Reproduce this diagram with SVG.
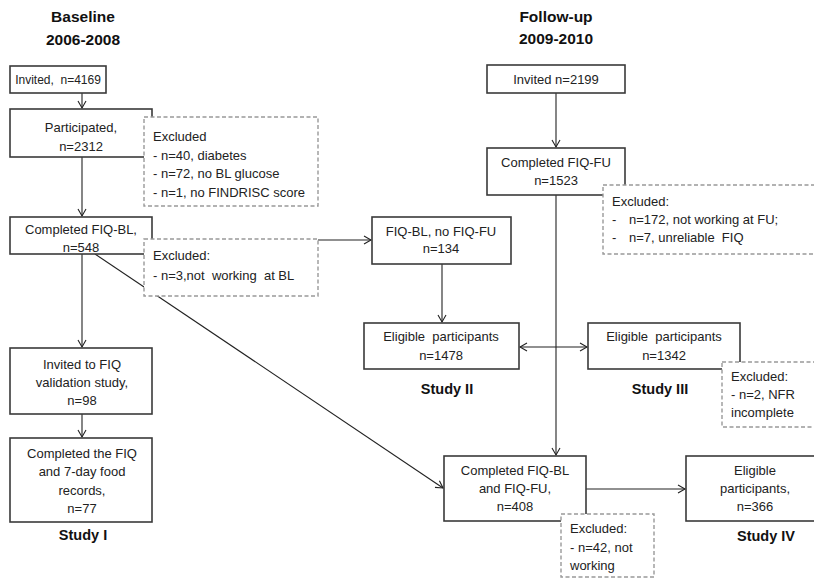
<svg xmlns="http://www.w3.org/2000/svg" width="814" height="579" viewBox="0 0 814 579" xml:space="preserve">
<style>
text{font-family:"Liberation Sans",Arial,sans-serif;font-size:13px;fill:#222;white-space:pre;}
.c{text-anchor:middle;}
.t{font-weight:bold;font-size:15.5px;fill:#111;text-anchor:middle;}
.s{font-weight:bold;font-size:14.5px;fill:#111;text-anchor:middle;}
.box{fill:#fff;stroke:#3a3a3a;stroke-width:1.6;}
.ex{fill:#fff;stroke:#999;stroke-width:1.4;stroke-dasharray:4 2.5;}
.ln{fill:none;stroke:#222;stroke-width:1.1;}
</style>
<defs>
<marker id="ah" markerWidth="10" markerHeight="10" refX="8" refY="5" orient="auto" markerUnits="userSpaceOnUse">
<path d="M1,1 L8,5 L1,9" fill="none" stroke="#222" stroke-width="1.1"/>
</marker>
<marker id="ahs" markerWidth="10" markerHeight="10" refX="8" refY="5" orient="auto-start-reverse" markerUnits="userSpaceOnUse">
<path d="M1,1 L8,5 L1,9" fill="none" stroke="#222" stroke-width="1.1"/>
</marker>
</defs>
<rect width="814" height="579" fill="#fff"/>
<text class="t" x="83" y="22">Baseline</text>
<text class="t" x="83" y="45">2006-2008</text>
<text class="t" x="556" y="22">Follow-up</text>
<text class="t" x="556" y="44">2009-2010</text>
<g id="connectors">
<line class="ln" x1="82" y1="93" x2="82" y2="108" marker-end="url(#ah)"/>
<line class="ln" x1="82" y1="157" x2="82" y2="216" marker-end="url(#ah)"/>
<line class="ln" x1="82" y1="254" x2="82" y2="347" marker-end="url(#ah)"/>
<line class="ln" x1="82" y1="414" x2="82" y2="437" marker-end="url(#ah)"/>
<line class="ln" x1="152" y1="240" x2="371" y2="240" marker-end="url(#ah)"/>
<line class="ln" x1="95" y1="254" x2="443" y2="488" marker-end="url(#ah)"/>
<line class="ln" x1="556" y1="93" x2="556" y2="147" marker-end="url(#ah)"/>
<line class="ln" x1="442" y1="264" x2="442" y2="322" marker-end="url(#ah)"/>
<line class="ln" x1="556" y1="195" x2="556" y2="455" marker-end="url(#ah)"/>
<line class="ln" x1="520" y1="347" x2="587" y2="347" marker-start="url(#ahs)" marker-end="url(#ah)"/>
<line class="ln" x1="586" y1="489" x2="685" y2="489" marker-end="url(#ah)"/>
</g>
<g id="n-invited-bl"><rect class="box" x="10" y="66" width="96" height="27"/><text class="c" x="58" y="84" style="font-size:12px">Invited,  n=4169</text></g>
<g id="n-participated"><rect class="box" x="10" y="109" width="142" height="48"/><text class="c" x="81" y="132">Participated,</text><text class="c" x="81" y="151">n=2312</text></g>
<g id="x-participated"><rect class="ex" x="144" y="117" width="174" height="89"/><text x="153" y="141">Excluded</text><text x="153" y="160">- n=40, diabetes</text><text x="153" y="178">- n=72, no BL glucose</text><text x="153" y="197">- n=1, no FINDRISC score</text></g>
<g id="n-completed-bl"><rect class="box" x="10" y="217" width="142" height="37"/><text class="c" x="81" y="234">Completed FIQ-BL,</text><text class="c" x="81" y="252">n=548</text></g>
<g id="x-completed-bl"><rect class="ex" x="144" y="239" width="174" height="57"/><text x="153" y="260">Excluded:</text><text x="153" y="280">- n=3,not  working  at BL</text></g>
<g id="n-invited-val"><rect class="box" x="10" y="348" width="142" height="66"/><text class="c" x="82" y="369">Invited to FIQ</text><text class="c" x="82" y="387">validation study,</text><text class="c" x="82" y="405">n=98</text></g>
<g id="n-completed-val"><rect class="box" x="10" y="438" width="142" height="84"/><text class="c" x="82" y="458">Completed the FIQ</text><text class="c" x="82" y="476">and 7-day food</text><text class="c" x="82" y="495">records,</text><text class="c" x="82" y="513">n=77</text></g>
<text class="s" x="83" y="540">Study I</text>
<g id="n-invited-fu"><rect class="box" x="487" y="65" width="138" height="28"/><text class="c" x="556" y="84">Invited n=2199</text></g>
<g id="n-completed-fu"><rect class="box" x="487" y="148" width="138" height="47"/><text class="c" x="556" y="167">Completed FIQ-FU</text><text class="c" x="556" y="185">n=1523</text></g>
<g id="x-completed-fu"><rect class="ex" x="603" y="185" width="220" height="69"/><text x="612" y="206">Excluded:</text><text x="612" y="224">-</text><text x="629" y="224">n=172, not working at FU;</text><text x="612" y="242">-</text><text x="629" y="242">n=7, unreliable  FIQ</text></g>
<g id="n-bl-no-fu"><rect class="box" x="372" y="217" width="139" height="47"/><text class="c" x="441" y="236">FIQ-BL, no FIQ-FU</text><text class="c" x="441" y="253">n=134</text></g>
<g id="n-eligible-2"><rect class="box" x="364" y="323" width="155" height="46"/><text class="c" x="441" y="341">Eligible  participants</text><text class="c" x="441" y="360">n=1478</text></g>
<text class="s" x="447" y="394">Study II</text>
<g id="n-eligible-3"><rect class="box" x="588" y="323" width="152" height="46"/><text class="c" x="664" y="341">Eligible  participants</text><text class="c" x="664" y="360">n=1342</text></g>
<text class="s" x="660" y="394">Study III</text>
<g id="x-eligible-3"><rect class="ex" x="722" y="362" width="100" height="65"/><text x="731" y="381">Excluded:</text><text x="731" y="399">- n=2, NFR</text><text x="731" y="417">incomplete</text></g>
<g id="n-completed-both"><rect class="box" x="444" y="456" width="142" height="65"/><text class="c" x="515" y="475">Completed FIQ-BL</text><text class="c" x="515" y="493">and FIQ-FU,</text><text class="c" x="515" y="511">n=408</text></g>
<g id="x-completed-both"><rect class="ex" x="561" y="514" width="93" height="63"/><text x="570" y="533">Excluded:</text><text x="570" y="552">- n=42, not</text><text x="570" y="570">working</text></g>
<g id="n-eligible-4"><rect class="box" x="686" y="456" width="138" height="65"/><text class="c" x="755" y="475">Eligible</text><text class="c" x="755" y="493">participants,</text><text class="c" x="755" y="511">n=366</text></g>
<text class="s" x="766" y="541">Study IV</text>
</svg>
